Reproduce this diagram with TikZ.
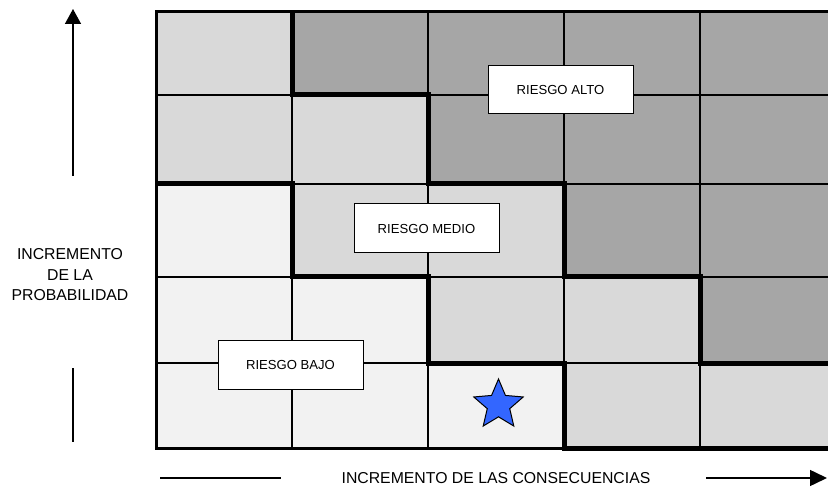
\documentclass[tikz,border=0pt]{standalone}
\usepackage{fontspec}
\setmainfont{Liberation Sans}
\usetikzlibrary{arrows.meta,shapes.geometric}

\definecolor{riskhigh}{HTML}{A6A6A6}
\definecolor{riskmed}{HTML}{D9D9D9}
\definecolor{risklow}{HTML}{F2F2F2}
\definecolor{starblue}{HTML}{3366FF}

\tikzset{
	zone/.style={draw, fill=white, line width=1pt, minimum width=145pt, minimum height=48pt, inner sep=0pt, font=\fontsize{13.1}{15}\selectfont},
	axis/.style={line width=1.5pt},
	axistext/.style={align=center, font=\fontsize{15.8}{20.5}\selectfont},
	border/.style={line width=5pt, line join=miter}
}

\begin{document}
\begin{tikzpicture}[x=1pt, y=-1pt]
		\useasboundingbox (0,0) rectangle (828,489);

		% fondo de las zonas
		\fill[risklow] (156,12) rectangle (835,448);
		\fill[riskmed] (156,12) -- (835,12) -- (835,448) -- (564,448) -- (564,363) -- (428,363) -- (428,277) -- (292,277) -- (292,184) -- (156,184) -- cycle;
		\fill[riskhigh] (292,12) -- (835,12) -- (835,363) -- (700,363) -- (700,277) -- (564,277) -- (564,184) -- (428,184) -- (428,95) -- (292,95) -- cycle;

		% rejilla
		\foreach \x in {292,428,564,700}
			\draw[line width=2pt] (\x,12) -- (\x,448);
		\foreach \y in {95,184,277,363}
			\draw[line width=1.6pt] (156,\y) -- (835,\y);
		\draw[line width=3pt] (156,12) rectangle (835,448);

		% limites entre zonas
		\draw[border] (292,12) -- (292,95) -- (428,95) -- (428,184) -- (564,184) -- (564,277) -- (700,277) -- (700,363) -- (835,363);
		\draw[border] (156,184) -- (292,184) -- (292,277) -- (428,277) -- (428,363) -- (564,363) -- (564,448) -- (835,448);

		\node (alto)[zone] at (560.5,90)  {RIESGO ALTO};
		\node (medio)[zone, minimum height=49pt] at (426.5,228.5)  {RIESGO MEDIO};
		\node (bajo)[zone] at (290.5,365)  {RIESGO BAJO};

		\node (star)[star, star points=5, star point ratio=2.2, draw, line width=1pt, fill=starblue, minimum size=52pt, inner sep=0pt] at (498.5,405)  {};

		% ejes
		\node (prob)[axistext] at (70,275)  {INCREMENTO\\DE LA\\PROBABILIDAD};
		\coordinate (ptop) at (73,9);
		\coordinate (pup) at (73,176);
		\coordinate (plow) at (73,368);
		\coordinate (pbot) at (73,442);
		\draw[axis, -{Triangle[length=15pt, width=16pt]}] (pup) -- (ptop);
		\draw[axis] (plow) -- (pbot);

		\node (cons)[axistext] at (496,478)  {INCREMENTO DE LAS CONSECUENCIAS};
		\coordinate (cleft) at (160,478);
		\coordinate (cmid) at (281,478);
		\coordinate (cright) at (706,478);
		\coordinate (ctip) at (827,478);
		\draw[axis] (cleft) -- (cmid);
		\draw[axis, -{Triangle[length=17pt, width=16pt]}] (cright) -- (ctip);
	\end{tikzpicture}
\end{document}
